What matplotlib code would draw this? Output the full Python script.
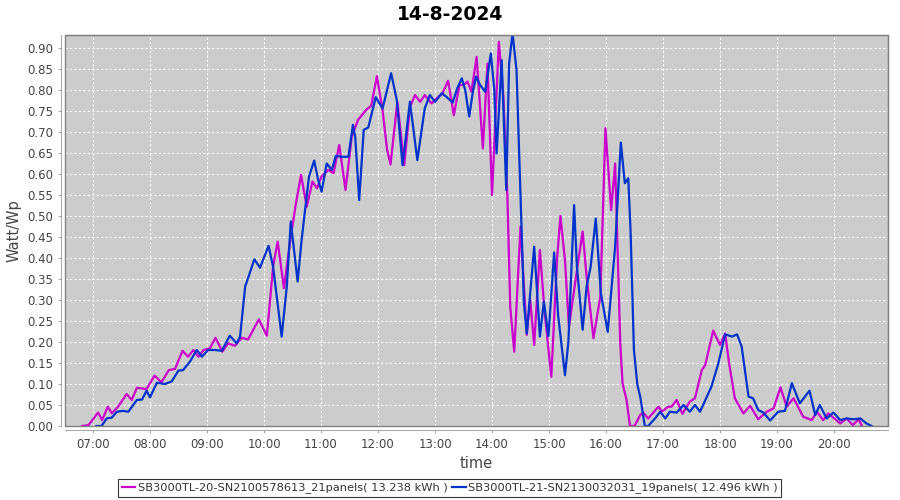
import matplotlib
matplotlib.use('Agg')
import matplotlib.pyplot as plt
from matplotlib.patches import Rectangle

# decimal hours / Watt per Wp
hours_a = [6.81, 6.92, 7.09, 7.16, 7.26, 7.33, 7.44, 7.59, 7.68, 7.77, 7.94, 8.08, 8.2, 8.33, 8.44,
           8.57, 8.67, 8.76, 8.85, 8.94, 9.05, 9.15, 9.27, 9.37, 9.49, 9.61, 9.72, 9.91, 10.05, 10.16,
           10.24, 10.35, 10.47, 10.56, 10.65, 10.75, 10.85, 10.93, 11.01, 11.13, 11.22, 11.32, 11.43,
           11.54, 11.65, 11.8, 11.88, 11.98, 12.08, 12.16, 12.22, 12.34, 12.46, 12.56, 12.65, 12.74,
           12.82, 12.94, 13.06, 13.13, 13.23, 13.33, 13.43, 13.5, 13.57, 13.64, 13.73, 13.84, 13.92,
           14.0, 14.12, 14.2, 14.27, 14.32, 14.39, 14.5, 14.61, 14.67, 14.74, 14.84, 14.92, 15.04,
           15.14, 15.2, 15.28, 15.35, 15.49, 15.59, 15.66, 15.78, 15.9, 15.99, 16.09, 16.16, 16.25,
           16.29, 16.36, 16.42, 16.5, 16.6, 16.65, 16.74, 16.92, 16.98, 17.09, 17.15, 17.24, 17.34,
           17.47, 17.56, 17.68, 17.74, 17.88, 18.0, 18.09, 18.16, 18.26, 18.41, 18.53, 18.67, 18.82,
           18.94, 19.06, 19.17, 19.29, 19.46, 19.61, 19.7, 19.81, 19.9, 20.11, 20.22, 20.33, 20.43,
           20.49]
watt_a = [0.0, 0.002, 0.032, 0.014, 0.046, 0.03, 0.046, 0.076, 0.062, 0.091, 0.088, 0.12, 0.104, 0.133,
          0.136, 0.179, 0.165, 0.181, 0.165, 0.181, 0.185, 0.21, 0.177, 0.197, 0.191, 0.21, 0.206, 0.254,
          0.215, 0.38, 0.439, 0.328, 0.451, 0.53, 0.598, 0.522, 0.582, 0.566, 0.594, 0.61, 0.602, 0.669,
          0.562, 0.689, 0.729, 0.754, 0.762, 0.833, 0.752, 0.657, 0.623, 0.772, 0.621, 0.76, 0.788, 0.772,
          0.788, 0.768, 0.784, 0.792, 0.822, 0.74, 0.812, 0.812, 0.82, 0.796, 0.879, 0.661, 0.863, 0.55,
          0.915, 0.784, 0.546, 0.284, 0.177, 0.475, 0.217, 0.3, 0.193, 0.419, 0.276, 0.117, 0.395, 0.5,
          0.395, 0.236, 0.371, 0.463, 0.355, 0.209, 0.308, 0.709, 0.514, 0.625, 0.197, 0.102, 0.062, 0.0,
          0.0, 0.026, 0.032, 0.018, 0.046, 0.034, 0.046, 0.046, 0.062, 0.029, 0.058, 0.066, 0.133, 0.145,
          0.227, 0.193, 0.22, 0.149, 0.066, 0.03, 0.048, 0.016, 0.034, 0.042, 0.092, 0.046, 0.066, 0.022,
          0.014, 0.034, 0.014, 0.03, 0.006, 0.018, 0.002, 0.016, 0.0]

hours_b = [7.06, 7.15, 7.24, 7.33, 7.42, 7.53, 7.62, 7.77, 7.86, 7.94, 8.0, 8.12, 8.26, 8.38, 8.5, 8.58,
           8.7, 8.82, 8.91, 9.02, 9.14, 9.26, 9.4, 9.52, 9.58, 9.67, 9.75, 9.83, 9.93, 10.08, 10.16,
           10.31, 10.4, 10.47, 10.59, 10.66, 10.72, 10.79, 10.88, 10.95, 11.01, 11.1, 11.19, 11.26,
           11.36, 11.48, 11.56, 11.6, 11.67, 11.75, 11.83, 11.96, 12.08, 12.23, 12.33, 12.43, 12.56,
           12.69, 12.82, 12.91, 13.0, 13.12, 13.2, 13.31, 13.39, 13.47, 13.53, 13.6, 13.66, 13.72,
           13.79, 13.88, 13.98, 14.04, 14.08, 14.17, 14.25, 14.3, 14.36, 14.43, 14.49, 14.56, 14.61,
           14.74, 14.84, 14.91, 14.99, 15.09, 15.16, 15.28, 15.34, 15.44, 15.49, 15.59, 15.66, 15.73,
           15.82, 15.91, 16.03, 16.16, 16.26, 16.33, 16.39, 16.43, 16.49, 16.55, 16.6, 16.68, 16.74,
           16.86, 16.95, 17.04, 17.12, 17.24, 17.36, 17.47, 17.56, 17.65, 17.77, 17.85, 17.97, 18.09,
           18.21, 18.3, 18.38, 18.5, 18.58, 18.67, 18.76, 18.88, 19.02, 19.14, 19.26, 19.4, 19.57,
           19.67, 19.75, 19.87, 19.99, 20.11, 20.22, 20.34, 20.46, 20.57, 20.66]
watt_b = [0.0, 0.0, 0.018, 0.02, 0.034, 0.036, 0.034, 0.062, 0.063, 0.084, 0.068, 0.103, 0.1, 0.106,
          0.132, 0.133, 0.153, 0.181, 0.165, 0.181, 0.181, 0.179, 0.215, 0.197, 0.213, 0.332, 0.364,
          0.397, 0.377, 0.429, 0.379, 0.213, 0.332, 0.487, 0.344, 0.443, 0.514, 0.594, 0.632, 0.586,
          0.558, 0.625, 0.61, 0.643, 0.641, 0.641, 0.717, 0.689, 0.538, 0.705, 0.711, 0.783, 0.756,
          0.84, 0.776, 0.621, 0.772, 0.633, 0.756, 0.788, 0.772, 0.792, 0.784, 0.77, 0.804, 0.828, 0.8,
          0.737, 0.792, 0.832, 0.812, 0.796, 0.887, 0.8, 0.649, 0.871, 0.562, 0.863, 0.935, 0.848,
          0.594, 0.292, 0.221, 0.427, 0.213, 0.296, 0.214, 0.413, 0.264, 0.121, 0.2, 0.526, 0.379,
          0.229, 0.332, 0.379, 0.494, 0.316, 0.224, 0.427, 0.675, 0.578, 0.59, 0.467, 0.181, 0.098,
          0.07, 0.0, 0.0, 0.018, 0.034, 0.018, 0.034, 0.032, 0.05, 0.034, 0.05, 0.034, 0.07, 0.094,
          0.149, 0.218, 0.213, 0.218, 0.189, 0.07, 0.066, 0.038, 0.032, 0.013, 0.034, 0.036, 0.102,
          0.054, 0.084, 0.026, 0.05, 0.018, 0.032, 0.014, 0.018, 0.016, 0.018, 0.006, 0.0]

label_a = 'SB3000TL-20-SN2100578613_21panels( 13.238 kWh )'
label_b = 'SB3000TL-21-SN2130032031_19panels( 12.496 kWh )'
x_ticks = list(range(7, 21))
y_ticks = [i * 0.05 for i in range(19)]

fig = plt.figure(figsize=(9, 5), dpi=100)
ax = fig.add_axes([65 / 900, 74 / 500, 823 / 900, 391 / 500])
ax.set_facecolor('#cccccc')

ax.plot(hours_a, watt_a, color='#cc00cc', lw=1.6, label=label_a, solid_joinstyle='round')
ax.plot(hours_b, watt_b, color='#0033cc', lw=1.6, label=label_b, solid_joinstyle='round')

ax.set_xlim(6.509, 20.947)
ax.set_ylim(0, 0.931)
ax.set_xticks(x_ticks)
ax.set_xticklabels(['%02d:00' % h for h in x_ticks])
ax.set_yticks(y_ticks)
ax.set_yticklabels(['%.2f' % v for v in y_ticks])
ax.grid(True, color='white', ls=(0, (2, 2)), lw=0.8)
ax.set_axisbelow(True)

for s in ['top', 'right']:
    ax.spines[s].set_color('#808080')
for s in ['left', 'bottom']:
    ax.spines[s].set_position(('outward', 3))
    ax.spines[s].set_color('#aaaaaa')
ax.add_patch(Rectangle((0, 0), 1, 1, transform=ax.transAxes, fill=False,
                       ec='#808080', lw=1, zorder=5, clip_on=False))
ax.tick_params(colors='#aaaaaa', labelcolor='#444444', labelsize=8.5, length=2)

fig.text(0.5, 1 - 15 / 500, '14-8-2024', ha='center', va='center', fontsize=13.5, fontweight='bold')
ax.set_xlabel('time', fontsize=10.5, color='#444444', labelpad=4)
ax.set_ylabel('Watt/Wp', fontsize=10.5, color='#444444', labelpad=4)

handles, labels = ax.get_legend_handles_labels()
leg = fig.legend(handles, labels, loc='center', bbox_to_anchor=(0.4995, 1 - 488 / 500), ncol=2,
                 fontsize=8.2, frameon=True, fancybox=False, edgecolor='black', handlelength=1.2,
                 handletextpad=0.2, columnspacing=0.4, borderpad=0.3, borderaxespad=0)
leg.get_frame().set_linewidth(0.8)
for t in leg.get_texts():
    t.set_color('#333333')

fig.savefig('out.png', dpi=100)
